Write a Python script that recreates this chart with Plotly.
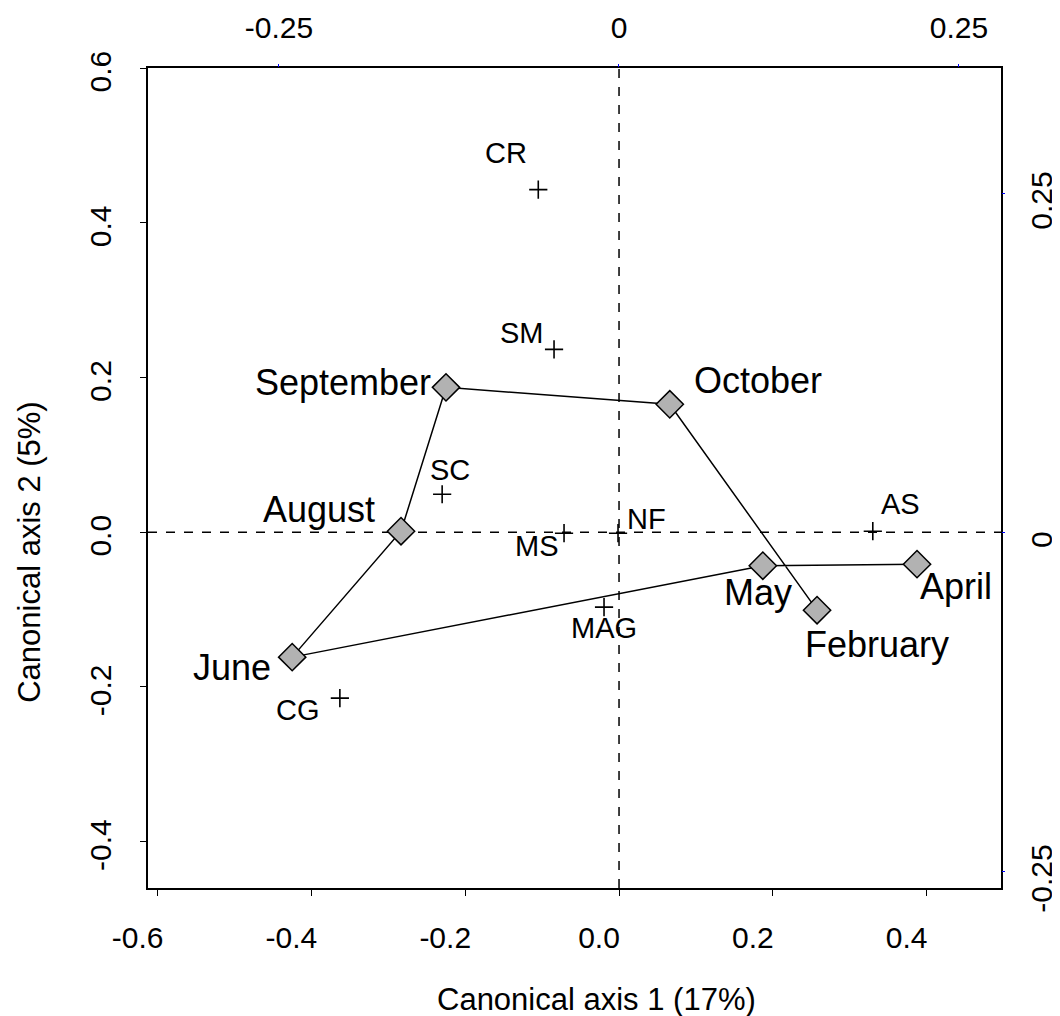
import plotly.graph_objects as go

# ---- data ----
months = ["April", "May", "June", "August", "September", "October", "February"]
month_ax1 = [0.3875, 0.187, -0.425, -0.2835, -0.225, 0.066, 0.2575]
month_ax2 = [-0.0413, -0.0433, -0.1615, 0.0013, 0.1873, 0.1654, -0.1008]

species = ["CR", "SM", "SC", "MS", "NF", "MAG", "AS", "CG"]
species_ax1 = [-0.105, -0.0845, -0.230, -0.0715, -0.0013, -0.0195, 0.330, -0.363]
species_ax2 = [0.443, 0.2364, 0.0491, -0.0013, -0.0013, -0.0969, 0.0013, -0.2145]

x_ticks = [-0.6, -0.4, -0.2, 0.0, 0.2, 0.4]
y_ticks = [-0.4, -0.2, 0.0, 0.2, 0.4, 0.6]
sec_ticks = [-0.25, 0, 0.25]
sec_ticktext = ["-0.25", "0", "0.25"]

x_title = "Canonical axis 1 (17%)"
y_title = "Canonical axis 2 (5%)"

# ---- styling / layout ----
FONT = "Liberation Sans, Arial, sans-serif"
XR = [-0.6125, 0.4967]
YR = [-0.46, 0.6002]
XR2 = [-0.3463, 0.2809]
YR2 = [-0.2625, 0.3422]

# label placement (xanchor, xshift, yshift)
month_lab = {
    "April": ("left", 1, -22),
    "May": ("center", -5, -27),
    "June": ("right", -19, -10),
    "August": ("right", -24, 22),
    "September": ("right", -13, 5),
    "October": ("left", 22, 24),
    "February": ("center", 60, -34),
}
species_lab = {
    "CR": (-32, 37), "SM": (-32, 16), "SC": (8, 24), "MS": (-27, -13),
    "NF": (28, 14), "MAG": (0, -21), "AS": (28, 27), "CG": (-42, -12),
}

fig = go.Figure()

fig.add_trace(go.Scatter(
    x=month_ax1, y=month_ax2, mode="lines+markers",
    line=dict(color="black", width=1.5),
    marker=dict(symbol="diamond", size=21, color="#b2b2b2",
                line=dict(color="black", width=1.5)),
    hoverinfo="text", text=months, showlegend=False,
))

fig.add_trace(go.Scatter(
    x=species_ax1, y=species_ax2, mode="markers",
    marker=dict(symbol="cross-thin", size=13,
                line=dict(color="black", width=1.6)),
    hoverinfo="text", text=species, showlegend=False,
))

# invisible trace to activate secondary axes
fig.add_trace(go.Scatter(x=[XR2[0]], y=[YR2[0]], xaxis="x2", yaxis="y2",
                         mode="markers", marker=dict(opacity=0),
                         showlegend=False, hoverinfo="skip"))

annotations = []
for m, x, y in zip(months, month_ax1, month_ax2):
    xa, dx, dy = month_lab[m]
    annotations.append(dict(x=x, y=y, text=m, showarrow=False, xanchor=xa,
                            yanchor="middle", xshift=dx, yshift=dy,
                            font=dict(family=FONT, size=36, color="black")))
for s, x, y in zip(species, species_ax1, species_ax2):
    dx, dy = species_lab[s]
    annotations.append(dict(x=x, y=y, text=s, showarrow=False, xanchor="center",
                            yanchor="middle", xshift=dx, yshift=dy,
                            font=dict(family=FONT, size=29, color="black")))

annotations.append(dict(text=x_title, x=0.526, y=-0.1354, xref="paper", yref="paper",
                        showarrow=False, xanchor="center", yanchor="middle",
                        font=dict(family=FONT, size=31, color="black")))
annotations.append(dict(text=y_title, x=-0.1383, y=0.41, xref="paper", yref="paper",
                        showarrow=False, xanchor="center", yanchor="middle",
                        textangle=-90,
                        font=dict(family=FONT, size=31, color="black")))

shapes = [
    dict(type="line", xref="x", yref="paper", x0=0, x1=0, y0=0, y1=1,
         line=dict(color="black", width=1.5, dash="dash"), layer="below"),
    dict(type="line", xref="paper", yref="y", x0=0, x1=1, y0=0, y1=0,
         line=dict(color="black", width=1.5, dash="dash"), layer="below"),
]

fig.update_layout(
    width=1060, height=1016,
    margin=dict(l=140, r=67, t=60, b=136, autoexpand=False),
    paper_bgcolor="white", plot_bgcolor="white",
    font=dict(family=FONT, color="black"),
    shapes=shapes,
    annotations=annotations,
    xaxis=dict(range=XR, tickvals=x_ticks, ticktext=[f"{v:.1f}" for v in x_ticks],
               showgrid=False, zeroline=False, showline=True, linecolor="black",
               linewidth=2, mirror=True, ticks="outside", ticklen=6,
               tickcolor="black", tickfont=dict(size=30, family=FONT),
               ticklabelstandoff=16, ticklabelshift=-20),
    yaxis=dict(range=YR, tickvals=y_ticks, ticktext=[f"{v:.1f}" for v in y_ticks],
               showgrid=False, zeroline=False, showline=True, linecolor="black",
               linewidth=2, mirror=True, ticks="outside", ticklen=6,
               tickcolor="black", tickangle=-90, tickfont=dict(size=30, family=FONT),
               ticklabelstandoff=17, ticklabelshift=8),
    xaxis2=dict(range=XR2, overlaying="x", side="top", tickvals=sec_ticks,
                ticktext=sec_ticktext, showgrid=False, zeroline=False,
                showline=False, ticks="outside", ticklen=3, tickcolor="blue",
                tickfont=dict(size=30, family=FONT), ticklabelstandoff=14),
    yaxis2=dict(range=YR2, overlaying="y", side="right", tickvals=sec_ticks,
                ticktext=sec_ticktext, showgrid=False, zeroline=False,
                showline=False, ticks="outside", ticklen=3, tickcolor="blue",
                tickangle=-90, tickfont=dict(size=30, family=FONT),
                ticklabelstandoff=11, ticklabelshift=12),
)

fig.write_html("out.html")
